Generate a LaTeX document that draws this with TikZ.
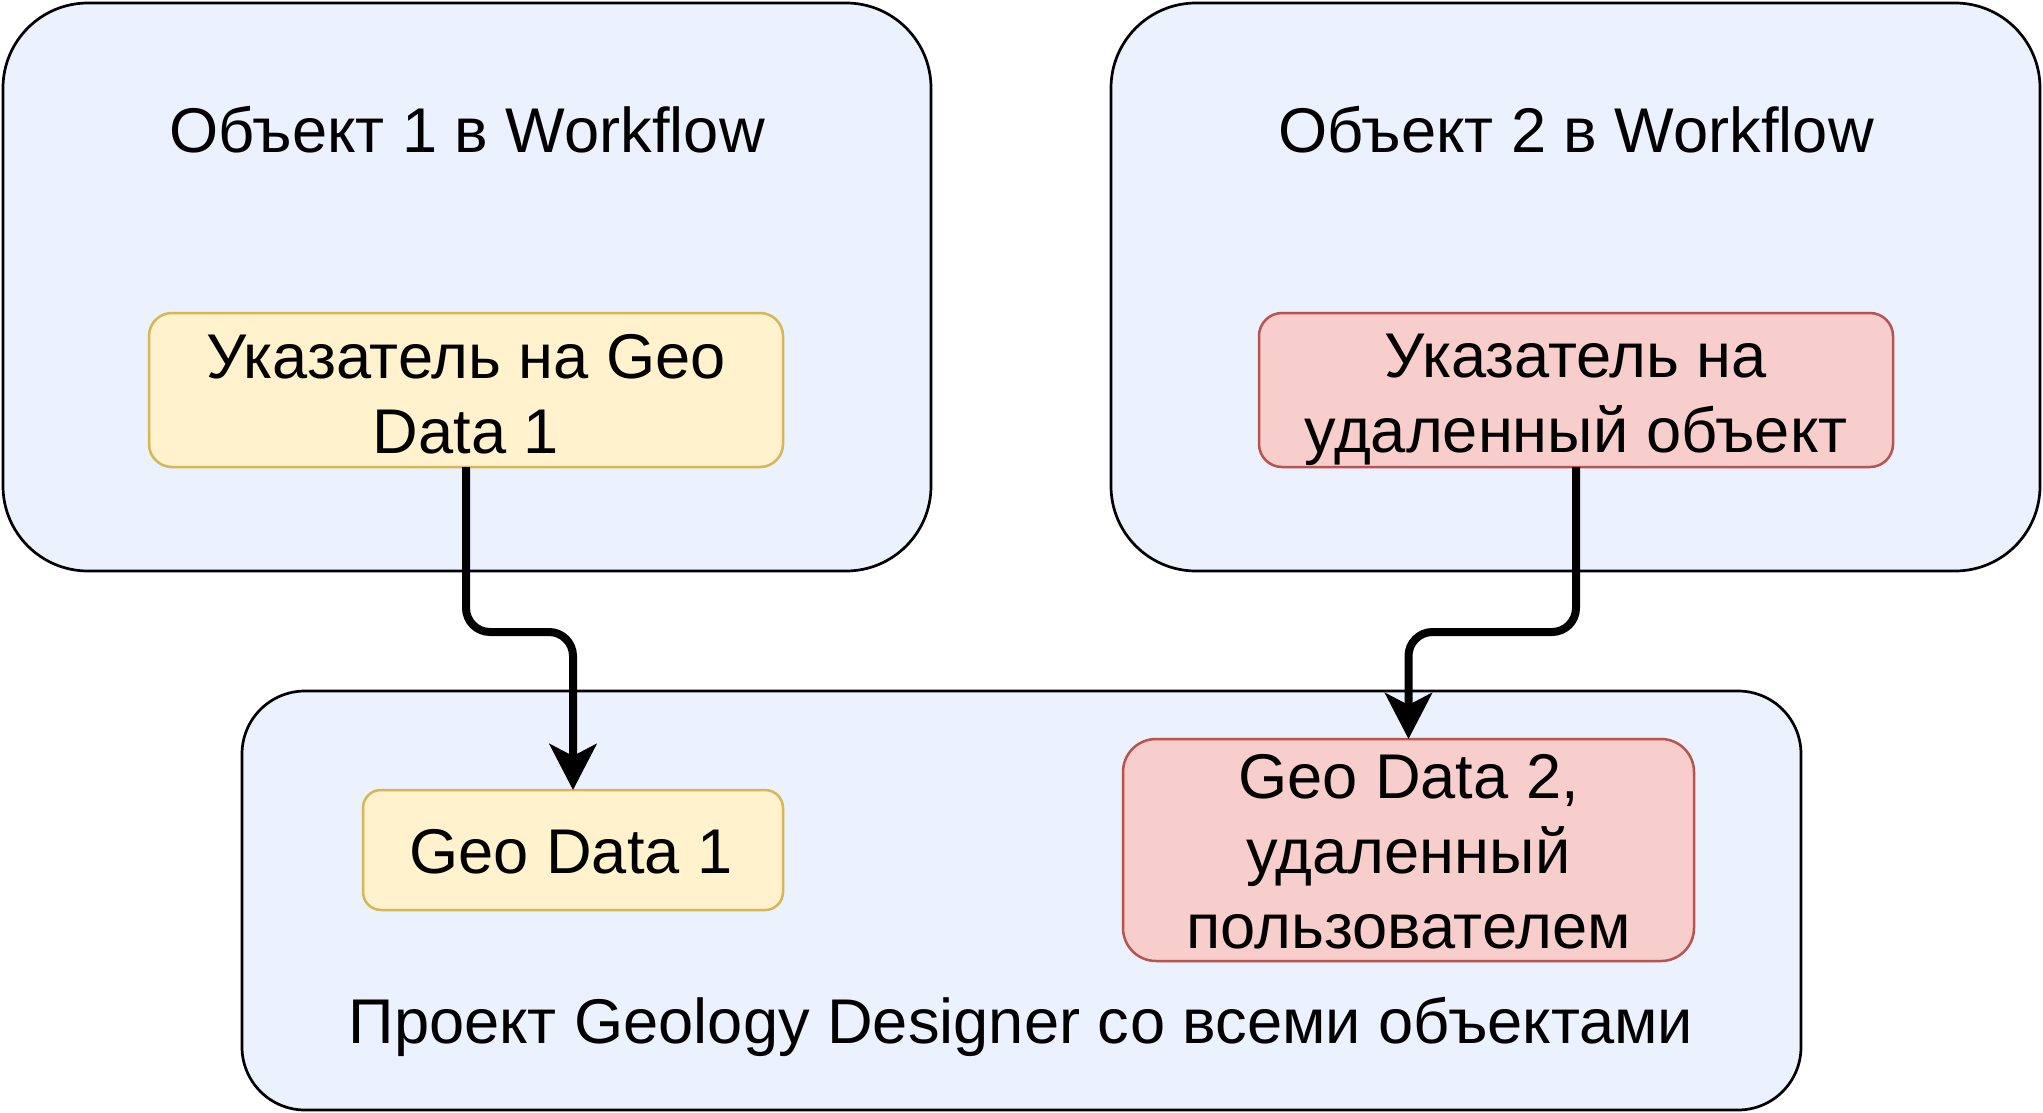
\documentclass[tikz,border=0pt]{standalone}
\usepackage{fontspec}
\setmainfont{Liberation Sans}
\usetikzlibrary{arrows.meta}
\definecolor{bluefill}{HTML}{EBF1FD}
\definecolor{yelfill}{HTML}{FFF2CC}
\definecolor{yelline}{HTML}{D6B656}
\definecolor{redfill}{HTML}{F8CECC}
\definecolor{redline}{HTML}{B85450}
\begin{document}
\begin{tikzpicture}[x=1pt,y=-1pt,
  every node/.style={inner sep=0pt, outer sep=0pt},
  outerbox/.style={draw=black, fill=bluefill, line width=2.7pt, rectangle},
  yelbox/.style={draw=yelline, fill=yelfill, line width=2.5pt, rectangle},
  redbox/.style={draw=redline, fill=redfill, line width=2.5pt, rectangle},
  txt/.style={anchor=base, font=\fontsize{63.2}{75}\selectfont, text=black},
  conn/.style={draw=black, line width=8pt, rounded corners=24pt,
    -{Stealth[length=46pt, width=47pt, inset=12pt]}}
]
\useasboundingbox (0,0) rectangle (2043,1113);
\fill[white] (0,0) rectangle (2043,1113);

% outer containers
\node[outerbox, minimum width=928pt, minimum height=568pt, rounded corners=85pt] (o1) at (467,287) {};
\node[outerbox, minimum width=929pt, minimum height=568pt, rounded corners=85pt] (o2) at (1575.5,287) {};
\node[outerbox, minimum width=1559pt, minimum height=419pt, rounded corners=63pt] (proj) at (1021.5,900.5) {};

% inner boxes
\node[yelbox, minimum width=634pt, minimum height=154pt, rounded corners=23pt] (p1) at (466,390) {};
\node[redbox, minimum width=634pt, minimum height=154pt, rounded corners=23pt] (p2) at (1576,390) {};
\node[yelbox, minimum width=420pt, minimum height=120pt, rounded corners=18pt] (gd1) at (573,850) {};
\node[redbox, minimum width=571pt, minimum height=222pt, rounded corners=33pt] (gd2) at (1408.5,850) {};

% texts
\node[txt] (t1) at (467,153) {Объект 1 в Workflow};
\node[txt] (t2) at (1576,153) {Объект 2 в Workflow};
\node[txt] (p1a) at (466,378) {Указатель на Geo};
\node[txt] (p1b) at (466,453) {Data 1};
\node[txt] (p2a) at (1576,377.5) {Указатель на};
\node[txt] (p2b) at (1576,452) {удаленный объект};
\node[txt] (g1) at (571,873) {Geo Data 1};
\node[txt] (g2a) at (1408.5,798) {Geo Data 2,};
\node[txt] (g2b) at (1408.5,873) {удаленный};
\node[txt] (g2c) at (1408.5,948) {пользователем};
\node[txt] (pt) at (1021,1043) {Проект Geology Designer со всеми объектами};

% connectors
\coordinate (m1) at (0,632);
\draw[conn] (p1.south) -- (p1.south |- m1) -- (gd1.north |- m1) -- (gd1.north);
\draw[conn] (p2.south) -- (p2.south |- m1) -- (gd2.north |- m1) -- (gd2.north);
\end{tikzpicture}
\end{document}
